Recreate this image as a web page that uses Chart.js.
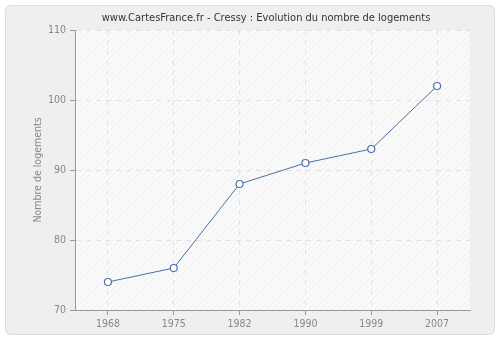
<!DOCTYPE html>
<html>
<head>
<meta charset="utf-8">
<script src="https://cdn.jsdelivr.net/npm/chart.js@4/dist/chart.umd.min.js"></script>
<style>
html,body{margin:0;padding:0;background:#ffffff;}
#wrap{width:500px;height:340px;position:relative;}
</style>
</head>
<body>
<div id="wrap"><canvas id="c" width="500" height="340"></canvas></div>
<script>
const titleText = "www.CartesFrance.fr - Cressy : Evolution du nombre de logements";
const yAxisTitle = "Nombre de logements";
const years = ["1968", "1975", "1982", "1990", "1999", "2007"];
const logements = [74, 76, 88, 91, 93, 102];
const yMin = 70, yMax = 110, yStep = 10;

const FONT = "'DejaVu Sans Condensed', 'DejaVu Sans', sans-serif";

function makePattern(ctx){
  const p = document.createElement('canvas');
  p.width = 6; p.height = 6;
  const g = p.getContext('2d');
  g.fillStyle = '#fafafa';
  g.fillRect(0,0,6,6);
  g.strokeStyle = '#eeeeee';
  g.lineWidth = 1;
  g.beginPath();
  g.moveTo(0,6); g.lineTo(6,0);
  g.moveTo(-3,3); g.lineTo(3,-3);
  g.moveTo(3,9); g.lineTo(9,3);
  g.stroke();
  return ctx.createPattern(p,'repeat');
}

const bgPlugin = {
  id: 'bg',
  beforeDraw(chart){
    const ctx = chart.ctx;
    ctx.save();
    const x=5.5,y=5.5,w=489,h=329,r=6;
    ctx.beginPath();
    ctx.moveTo(x+r,y);
    ctx.lineTo(x+w-r,y); ctx.quadraticCurveTo(x+w,y,x+w,y+r);
    ctx.lineTo(x+w,y+h-r); ctx.quadraticCurveTo(x+w,y+h,x+w-r,y+h);
    ctx.lineTo(x+r,y+h); ctx.quadraticCurveTo(x,y+h,x,y+h-r);
    ctx.lineTo(x,y+r); ctx.quadraticCurveTo(x,y,x+r,y);
    ctx.closePath();
    ctx.fillStyle = '#efefef';
    ctx.fill();
    ctx.strokeStyle = '#dcdcdc';
    ctx.lineWidth = 1;
    ctx.stroke();
    const a = chart.chartArea;
    ctx.fillStyle = makePattern(ctx);
    ctx.fillRect(a.left, a.top, a.right-a.left, a.bottom-a.top);
    ctx.restore();
  },
  afterDraw(chart){
    const ctx = chart.ctx;
    ctx.save();
    ctx.font = "11px " + FONT;
    ctx.fillStyle = '#333333';
    ctx.textAlign = 'center';
    ctx.textBaseline = 'middle';
    ctx.fillText(titleText, 266, 18);
    ctx.restore();
  }
};

new Chart(document.getElementById('c'), {
  type: 'line',
  data: {
    labels: years,
    datasets: [{
      data: logements,
      borderColor: '#4a72a8',
      borderWidth: 1,
      pointRadius: 3.5,
      pointBorderWidth: 1.2,
      pointBackgroundColor: '#ffffff',
      pointBorderColor: '#4a72a8',
      tension: 0,
      fill: false
    }]
  },
  options: {
    responsive: false,
    animation: false,
    devicePixelRatio: 1,
    layout: { padding: { top: 30, left: 0, right: 30, bottom: 0 } },
    plugins: {
      legend: { display: false },
      tooltip: { enabled: false },
      title: { display: false }
    },
    scales: {
      x: {
        type: 'category',
        offset: true,
        grid: {
          offset: false,
          color: '#e2e2e2',
          lineWidth: 1,
          tickLength: 5,
          tickColor: '#999999',
          tickBorderDash: [],
          drawTicks: true
        },
        border: { display: true, color: '#999999', width: 1, dash: [5, 5] },
        ticks: {
          color: '#888888',
          font: { family: FONT, size: 10.5 },
          padding: 3,
          maxRotation: 0
        },
        afterFit(scale){ scale.height = 30; }
      },
      y: {
        min: yMin,
        max: yMax,
        grid: {
          color: '#e2e2e2',
          lineWidth: 1,
          tickLength: 5,
          tickColor: '#999999',
          tickBorderDash: []
        },
        border: { display: true, color: '#999999', width: 1, dash: [5, 5] },
        ticks: {
          stepSize: yStep,
          color: '#888888',
          font: { family: FONT, size: 10.5 },
          padding: 4
        },
        title: {
          display: true,
          text: yAxisTitle,
          color: '#888888',
          font: { family: FONT, size: 10.5 },
          padding: { top: 32, bottom: 0 }
        },
        afterFit(scale){ scale.width = 75; }
      }
    }
  },
  plugins: [bgPlugin]
});
</script>
</body>
</html>
